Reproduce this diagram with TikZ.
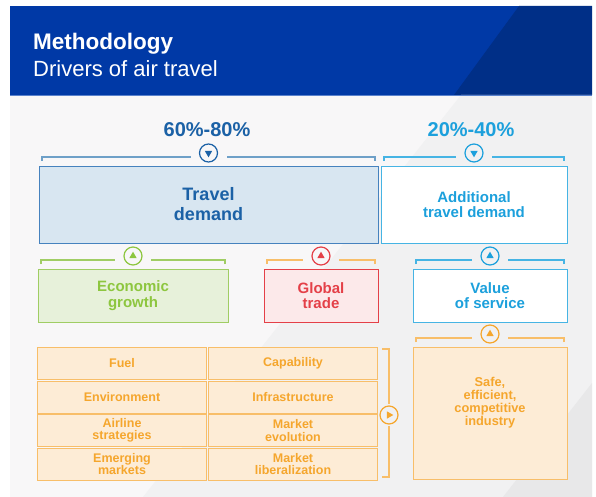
\documentclass[tikz,border=0pt]{standalone}
\usepackage{fontspec}
\setmainfont{Liberation Sans}
\usetikzlibrary{positioning,calc}
\definecolor{hdrBlue}{RGB}{0,57,166}
\definecolor{hdrDark}{RGB}{0,47,135}
\definecolor{hdrRule}{RGB}{90,130,205}
\definecolor{bgLight}{RGB}{248,247,248}
\definecolor{bgMid}{RGB}{241,241,242}
\definecolor{bgDark}{RGB}{232,232,233}
\definecolor{tdBlue}{RGB}{27,97,166}
\definecolor{tdFill}{RGB}{216,230,241}
\definecolor{tdLine}{RGB}{70,130,190}
\definecolor{tdBrace}{RGB}{110,160,200}
\definecolor{cyanT}{RGB}{28,160,220}
\definecolor{cyanL}{RGB}{70,180,228}
\definecolor{grnT}{RGB}{141,198,63}
\definecolor{grnFill}{RGB}{231,241,218}
\definecolor{grnL}{RGB}{160,205,100}
\definecolor{redT}{RGB}{228,64,72}
\definecolor{redFill}{RGB}{252,233,234}
\definecolor{orgT}{RGB}{245,166,45}
\definecolor{orgFill}{RGB}{253,236,214}
\definecolor{orgL}{RGB}{248,190,105}
\tikzset{
  box/.style={draw, line width=1pt, inner sep=0pt, outer sep=0pt, align=center},
  cell/.style={box, draw=orgL, fill=orgFill, text=orgT, minimum width=169pt, minimum height=32pt,
    font=\bfseries\fontsize{12.5}{12.5}\selectfont},
  dot/.style={circle, draw, line width=1.2pt, minimum size=18pt, inner sep=0pt, outer sep=0pt},
  brace/.style={line width=1.2pt},
}
\newcommand{\anch}[2]{\coordinate (#1) at (#2);}
% small filled triangle in a circle: colour, circle, direction
\newcommand{\tri}[3]{\fill[#1] ($(#2)+(#3:4.3)$) -- ($(#2)+(#3+120:4.3)$) -- ($(#2)+(#3+240:4.3)$) -- cycle;}
% bracket over a box, broken round its circle
\newcommand{\topbrace}[3]{%
  \draw[brace,#1] ([xshift=3pt,yshift=5pt]#2.north west) |- ([xshift=-18pt,yshift=-4pt]#3.center);
  \draw[brace,#1] ([xshift=-3pt,yshift=5pt]#2.north east) |- ([xshift=18pt,yshift=-4pt]#3.center);}

\begin{document}
\begin{tikzpicture}[x=1pt,y=-1pt]
  \useasboundingbox (0,0) rectangle (596,497);
  % header and background
  \fill[hdrBlue] (10,6) rectangle (592,95);
  \fill[hdrDark] (519,6) -- (592,6) -- (592,95) -- (454,95) -- cycle;
  \fill[bgLight] (10,95) rectangle (592,497);
  \fill[bgMid] (461,95) -- (592,95) -- (592,497) -- (143,497) -- cycle;
  \fill[bgDark] (592,383) -- (592,497) -- (503,497) -- cycle;
  \draw[hdrRule, line width=0.6pt] (10,95.3) -- (592,95.3);
  \node[anchor=base west, inner sep=0pt, text=white, font=\bfseries\fontsize{22.5}{24}\selectfont] (title) at (33,50) {Methodology};
  \node[anchor=base west, inner sep=0pt, text=white, font=\fontsize{22}{24}\selectfont] (subtitle) at (33,77) {Drivers of air travel};

  % top row
  \node[box, draw=tdLine, fill=tdFill, text=tdBlue, minimum width=339pt, minimum height=77pt,
    font=\bfseries\fontsize{18}{20}\selectfont] (travel) at (208.5,204.5) {Travel\\demand};
  \node[box, draw=cyanL, fill=white, text=cyanT, minimum width=186pt, minimum height=77pt,
    font=\bfseries\fontsize{15}{15.3}\selectfont] (extra) at (474,204.5) {Additional\\travel demand};
  \node[dot, draw=tdBlue, above=4pt of travel] (tv) {};
  \node[dot, draw=cyanT, above=4pt of extra] (ex) {};
  \tri{tdBlue}{tv}{90}
  \tri{cyanT}{ex}{90}
  \topbrace{tdBrace}{travel}{tv}
  \topbrace{cyanL}{extra}{ex}
  \node[anchor=base, text=tdBlue, font=\bfseries\fontsize{20}{22}\selectfont] (share1) at (207,136.7) {60\%-80\%};
  \node[anchor=base, text=cyanT, font=\bfseries\fontsize{20}{22}\selectfont] (share2) at (471,136.7) {20\%-40\%};

  % middle row
  \node[box, draw=grnL, fill=grnFill, text=grnT, minimum width=190pt, minimum height=53pt,
    font=\bfseries\fontsize{15}{15.6}\selectfont] (econ) at (133,295.5) {Economic\\growth};
  \node[box, draw=redT, fill=redFill, text=redT, minimum width=114pt, minimum height=53pt,
    font=\bfseries\fontsize{15}{15.6}\selectfont] (trade) at (321,295.5) {Global\\trade};
  \node[box, draw=cyanL, fill=white, text=cyanT, minimum width=154pt, minimum height=53pt,
    font=\bfseries\fontsize{15}{15.6}\selectfont] (value) at (490,295.5) {Value\\of service};
  \node[dot, draw=grnT, above=4pt of econ] (ec) {};
  \node[dot, draw=redT, above=4pt of trade] (tr) {};
  \node[dot, draw=cyanT, above=4pt of value] (va) {};
  \tri{grnT}{ec}{-90}
  \tri{redT}{tr}{-90}
  \tri{cyanT}{va}{-90}
  \topbrace{grnL}{econ}{ec}
  \topbrace{orgL}{trade}{tr}
  \topbrace{cyanL}{value}{va}

  % bottom row
  \node[cell] (fuel) at (122,363) {Fuel};
  \node[cell] (capab) at (293,363) {Capability};
  \node[cell] (envir) at (122,397) {Environment};
  \node[cell] (infra) at (293,397) {Infrastructure};
  \node[cell] (airl) at (122,430.5) {Airline\\strategies};
  \node[cell] (evol) at (293,430.5) {Market\\evolution};
  \node[cell] (emerg) at (122,464) {Emerging\\markets};
  \node[cell] (liber) at (293,464) {Market\\liberalization};
  \node[box, draw=orgL, fill=orgFill, minimum width=154pt, minimum height=132pt] (safe) at (490,413) {};
  \node[text=orgT, align=center, font=\bfseries\fontsize{12.8}{13}\selectfont] (safetext)
    at ([yshift=10pt]safe.center) {Safe,\\efficient,\\competitive\\industry};
  \node[dot, draw=orgT, above=4pt of safe] (sf) {};
  \tri{orgT}{sf}{-90}
  \topbrace{orgL}{safe}{sf}

  % bracket on the right of the grid
  \anch{gt}{382,349}
  \anch{gb}{382,477}
  \node[dot, draw=orgT] (gc) at (389,415) {};
  \tri{orgT}{gc}{0}
  \draw[brace,orgL] (gt) -| ([yshift=11pt]gc.center);
  \draw[brace,orgL] (gb) -| ([yshift=-11pt]gc.center);
\end{tikzpicture}
\end{document}
